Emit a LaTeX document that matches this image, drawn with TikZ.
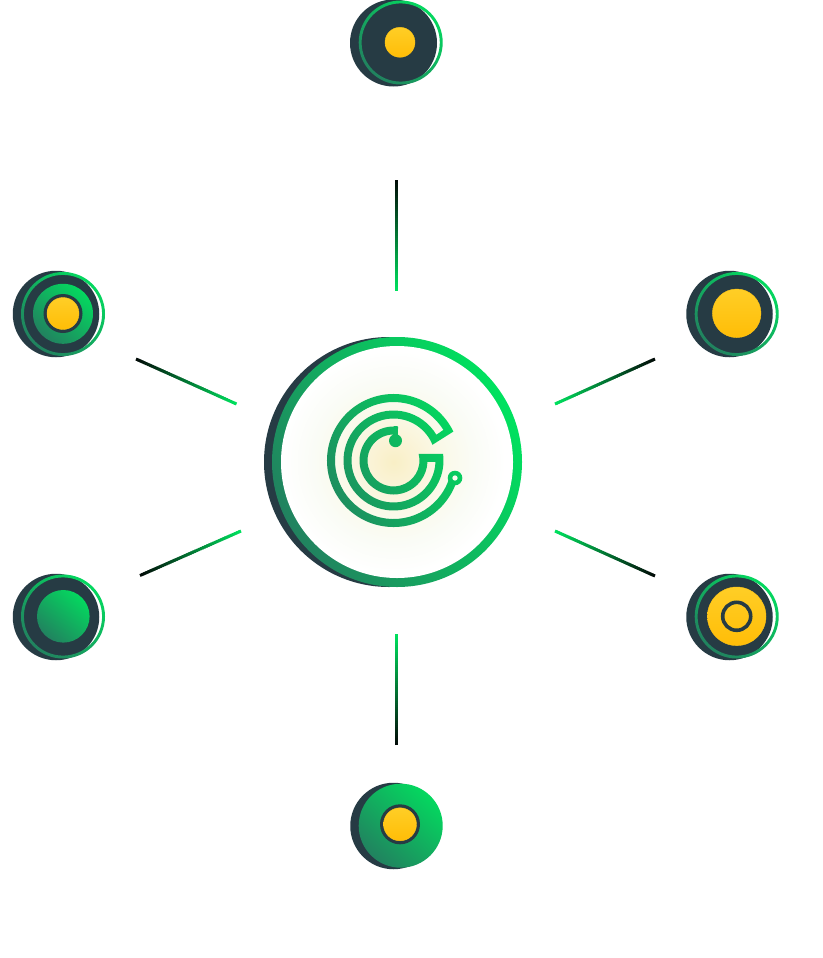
\documentclass[tikz,border=0pt]{standalone}
\usetikzlibrary{calc,shadings}
\definecolor{slate}{HTML}{263B44}
\definecolor{gbright}{HTML}{00E25F}
\definecolor{gsmall}{HTML}{04D85F}
\definecolor{gdeep}{HTML}{21825F}
\definecolor{ylight}{HTML}{FFCE26}
\definecolor{ydeep}{HTML}{FFBD07}
\definecolor{ymid}{HTML}{FFC516}
\definecolor{linedark}{HTML}{020A07}
\definecolor{linegreen}{HTML}{00E25F}
\definecolor{glowa}{HTML}{F9EFC6}
\definecolor{glowb}{HTML}{FAF3D6}
\definecolor{glowc}{HTML}{FAF9E8}
\definecolor{glowd}{HTML}{FAFCF6}
\pgfdeclareradialshading{glowshade}{\pgfpoint{0bp}{0bp}}{%
  color(0bp)=(glowa);
  color(5bp)=(glowb);
  color(11bp)=(glowc);
  color(18bp)=(glowd);
  color(25bp)=(white);
  color(50bp)=(white)}
\tikzset{
  grad/.style={shade,shading=axis,bottom color=gdeep,top color=gsmall,shading angle=-42},
  hubgrad/.style={shade,shading=axis,bottom color=gdeep,top color=gbright,shading angle=-60},
  disc/.style={circle,inner sep=0pt,minimum size=#1,line width=0pt},
  slatedisc/.style={disc=#1,fill=slate},
  greendisc/.style={disc=#1,grad},
  yellowdisc/.style={disc=#1,shade,shading=axis,top color=ylight,bottom color=ydeep,draw=ymid,line width=0.4pt},
}
\newcommand{\gradline}[2]{%
  \foreach \i in {0,...,49}{%
    \pgfmathsetmacro{\ta}{\i/50}%
    \pgfmathsetmacro{\tb}{min(1,(\i+1.4)/50)}%
    \pgfmathsetmacro{\pc}{\i*2+1}%
    \draw[line width=3pt,draw=linegreen!\pc!linedark] ($(#1)!\ta!(#2)$) -- ($(#1)!\tb!(#2)$);
  }}
\newcommand{\thinring}[2]{%
  \shade[even odd rule,grad] (#1,#2) circle (42) (#1,#2) circle (39.1);}
\newcommand{\logoshade}{\shade[hubgrad] (-92,-92) rectangle (92,92);}
\begin{document}
\begin{tikzpicture}[x=1pt,y=-1pt]
  \useasboundingbox (0,0) rectangle (822,958);
  \fill[white] (0,0) rectangle (822,958);

  % centre
  \node[slatedisc=250pt] (hubshadow) at (389,462) {};
  \node[disc=250pt,hubgrad] (hubring) at (397,462) {};
  \node[disc=232pt,fill=white] (hubface) at (397,462) {};
  \shade[shading=glowshade] (393.5,462) circle (112);

  % logo: local coordinates, y upwards
  \begin{scope}[shift={(393.5,460.5)},x=1pt,y=1pt]
    \begin{scope}
      \clip (82:34) arc (82:357.5:34) -- (-2:42)
        arc (-2:-338:42) -- (25.8:66.5)
        arc (25.8:338:66.5) -- (61.5,-22) -- (55,-20) -- (336:58.5)
        arc (336:31.5:58.5) -- (31:50)
        arc (31:367.5:50) -- (14.5:26)
        arc (14.5:-278:26) -- cycle;
      \logoshade
    \end{scope}
    \begin{scope}
      \clip (2,19.8) circle (6.5);
      \logoshade
    \end{scope}
    \begin{scope}
      \clip (0,20) rectangle (4.2,33.7);
      \logoshade
    \end{scope}
    \begin{scope}[even odd rule]
      \clip (61.5,-17.5) circle (7.3) (61.5,-17.5) circle (2.8);
      \logoshade
    \end{scope}
  \end{scope}

  % top
  \node[slatedisc=87pt] (topshadow) at (393.5,43) {};
  \thinring{400.7}{42.5}
  \node[yellowdisc=30pt] (topdot) at (400,42.3) {};

  % upper left
  \node[slatedisc=86.5pt] (ulshadow) at (56,314) {};
  \thinring{63}{314}
  \node[greendisc=60pt] (ulgreen) at (63,313.8) {};
  \node[slatedisc=39pt] (ulrim) at (63,313.5) {};
  \node[yellowdisc=32pt] (uldot) at (63,313.5) {};

  % upper right
  \node[slatedisc=86.5pt] (urshadow) at (729.5,314) {};
  \thinring{736.7}{314}
  \node[yellowdisc=48.6pt] (urdot) at (736.7,313.3) {};

  % lower left
  \node[slatedisc=86.5pt] (llshadow) at (56,617) {};
  \thinring{63}{616.5}
  \node[greendisc=52.6pt] (llgreen) at (63.3,616.3) {};

  % lower right
  \node[slatedisc=86.5pt] (lrshadow) at (729.5,617) {};
  \thinring{736.7}{616.5}
  \node[yellowdisc=58.6pt] (lrdot) at (736.7,616.3) {};
  \node[disc=28pt,draw=slate,line width=3.6pt] (lrmark) at (736.7,616.3) {};

  % bottom
  \node[slatedisc=86.5pt] (botshadow) at (393.5,826) {};
  \node[greendisc=84pt] (botgreen) at (400.7,825.7) {};
  \node[slatedisc=40pt] (botrim) at (400,824.3) {};
  \node[yellowdisc=33pt] (botdot) at (400,824.3) {};

  % spokes
  \coordinate (sTa) at (396,180);   \coordinate (sTb) at (396,291);
  \coordinate (sBa) at (396,745);   \coordinate (sBb) at (396,634);
  \coordinate (sULa) at (136,359);  \coordinate (sULb) at (236.5,404);
  \coordinate (sLLa) at (140,575.5);\coordinate (sLLb) at (241,531);
  \coordinate (sURa) at (655,359);  \coordinate (sURb) at (555,404);
  \coordinate (sLRa) at (655,576);  \coordinate (sLRb) at (555,531);
  \gradline{sTa}{sTb}
  \gradline{sBa}{sBb}
  \gradline{sULa}{sULb}
  \gradline{sLLa}{sLLb}
  \gradline{sURa}{sURb}
  \gradline{sLRa}{sLRb}
\end{tikzpicture}
\end{document}
